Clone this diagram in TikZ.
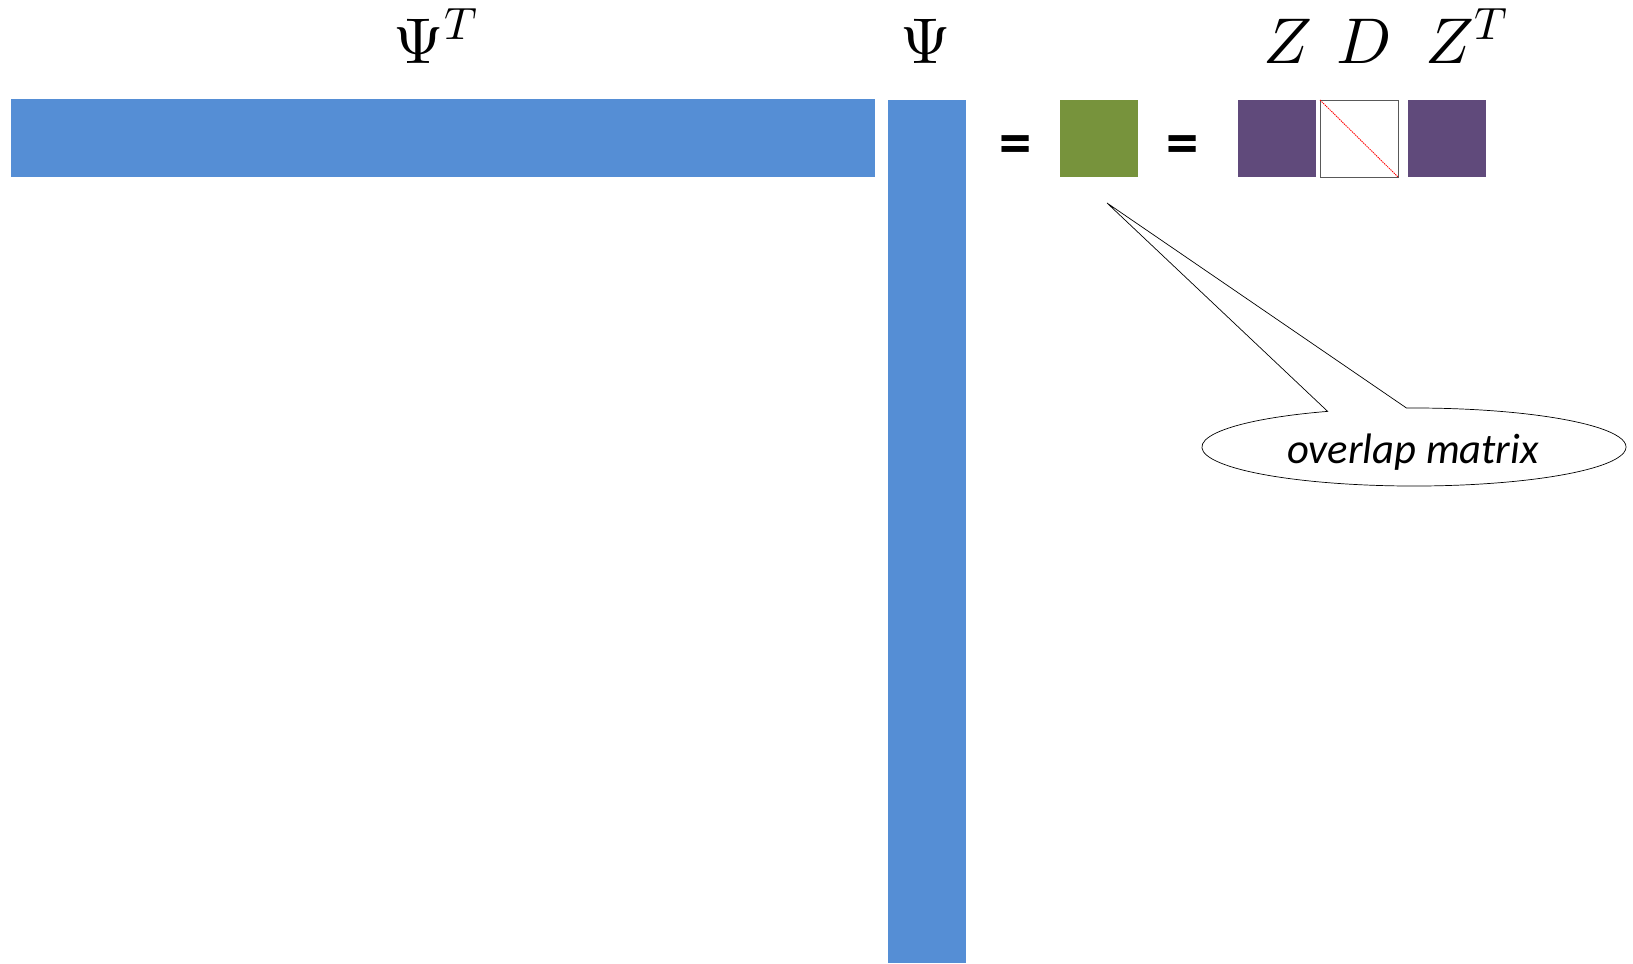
\documentclass[tikz,border=0pt]{standalone}
\usepackage{fontspec}
\usepackage{unicode-math}
\newfontfamily\calibri{Carlito}
\usetikzlibrary{shapes.callouts,shapes.geometric}
\definecolor{psiblue}{HTML}{558ED5}
\definecolor{ovgreen}{HTML}{77933C}
\definecolor{zpurple}{HTML}{604A7B}
\tikzset{
  mat/.style={rectangle, inner sep=0pt, outer sep=0pt, draw=none},
  lbl/.style={anchor=base, inner sep=0pt, font=\fontsize{46}{54}\selectfont},
  eqs/.style={inner sep=0pt, font=\calibri\bfseries\fontsize{46}{50}\selectfont},
}
\begin{document}
\begin{tikzpicture}[x=0.025cm, y=-0.025cm]
\useasboundingbox (0,0) rectangle (1633,963);
% matrices
\node[mat, fill=psiblue, minimum width=21.6cm, minimum height=1.95cm] (psiT) at (443,138) {};
\node[mat, fill=psiblue, minimum width=1.95cm, minimum height=21.575cm] (psi) at (927,531.5) {};
\node[mat, fill=ovgreen, minimum width=1.95cm, minimum height=1.925cm] (S) at (1099,138.5) {};
\node[mat, fill=zpurple, minimum width=1.95cm, minimum height=1.925cm] (Z) at (1277,138.5) {};
\node[mat, draw=black!65, line width=0.6pt, fill=white, minimum width=1.95cm, minimum height=1.925cm] (D) at (1359,138.5) {};
\node[mat, fill=zpurple, minimum width=1.95cm, minimum height=1.925cm] (ZT) at (1447,138.5) {};
\draw[red, line width=0.6pt, dash pattern=on 1pt off 0.6pt] (D.north west) -- (D.south east);
% equals signs
\node[eqs] (eq1) at (1015.5,150) {=};
\node[eqs] (eq2) at (1182.5,150) {=};
% labels
\node[lbl] (lpsiT) at (436,63) {$\Psi^{T}$};
\node[lbl] (lpsi) at (926,63) {$\Psi$};
\node[lbl] (lZ) at (1288,63) {$Z$};
\node[lbl] (lD) at (1363,63) {$D$};
\node[lbl] (lZT) at (1467,63) {$Z^{T}$};
% callout
\coordinate (tip) at (1107,203);
\node[ellipse callout, draw=black, line width=0.5pt, fill=white,
      minimum width=10.6cm, minimum height=1.95cm, inner sep=0pt,
      callout absolute pointer={(tip)}, callout pointer arc=22] (call) at (1414,447) {};
\node[inner sep=0pt, font=\calibri\itshape\fontsize{30.3}{34}\selectfont] (calltext) at (1413,452) {overlap matrix};
\end{tikzpicture}
\end{document}
